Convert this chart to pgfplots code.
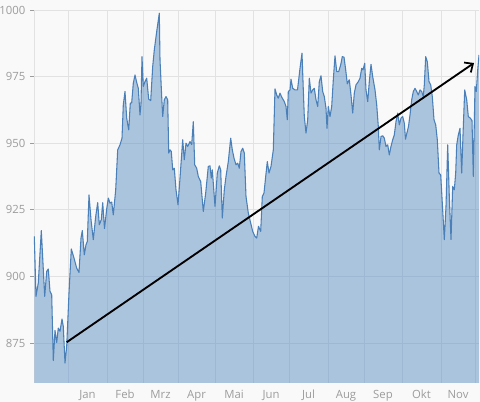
\documentclass[border=0pt]{standalone}
\usepackage{fontspec}
\setmainfont{Open Sans}
\usepackage{pgfplots}
\pgfplotsset{compat=1.18}
\usepackage{pgfplotstable}
\usetikzlibrary{arrows.meta,backgrounds}

\definecolor{areablue}{HTML}{4F86C0}
\definecolor{lineblue}{HTML}{4A7FB8}
\definecolor{gridcol}{HTML}{E2E2E2}
\definecolor{labelcol}{HTML}{9C9C9C}
\definecolor{bgcol}{HTML}{F9F9F9}

% x = position along the (ordinal) time axis, y = price
\pgfplotstableread{
x y
34.3 915.0
36 892.5
38.3 897.6
41.3 917.2
44.7 892.5
46.7 901.9
48.3 902.8
50 894.4
51.7 893.1
53.3 868.4
55 879.7
56.7 875.2
58.3 880.6
60 879.4
62 884.0
63.3 881.2
65 867.5
66.7 873.8
69 893.8
71.3 910.3
74 906.9
76.7 903.1
79 901.5
81 914.4
82.3 917.2
84.3 908.1
86 911.9
87.3 913.1
89 930.6
91 921.3
93.3 913.8
95.7 922.5
97.7 927.7
99.3 919.4
101.3 921.3
102.7 927.7
104.5 918.0
106.7 925.3
108.3 929.4
110 927.5
111.7 927.9
113.3 923.1
115.7 932.5
117.7 947.5
120 949.4
122 951.9
123.3 964.4
125 969.4
126.7 959.4
128.7 955.0
130.3 965.0
131.7 965.2
133.3 972.5
135 975.6
136.7 972.8
138.3 970.6
140 960.6
141 965.0
142 982.5
143.3 971.3
145 973.1
146.7 974.4
148.7 966.5
150.7 966.0
152.7 978.8
154.3 985.0
156.7 991.9
159.3 998.8
160 981.3
161.7 967.5
162.7 960.0
164.3 966.3
166 967.5
167.7 966.3
168.7 946.3
170 947.5
171.3 946.9
172.7 940.0
174.3 940.6
176 932.5
178 926.9
180 936.9
182.7 951.3
184.3 943.8
186 950.0
187.7 948.8
190 950.6
191.7 949.5
193.3 958.1
194.7 941.9
196.7 940.6
198.3 937.5
200.7 935.6
203.3 924.4
205.7 931.3
208.3 941.3
210 941.5
211.3 936.9
212.3 940.0
215 926.3
217.3 938.8
219.3 941.5
220.7 940.0
222.3 921.9
224.3 932.5
226 937.5
228.3 943.1
230.7 951.9
232.3 947.5
234 944.4
236 941.9
237.7 942.5
239.3 940.6
241 946.9
242.7 948.1
244.3 946.3
246 930.0
248.3 923.8
250.7 920.0
252.7 916.9
255 915.0
256.7 914.4
258.5 918.8
260.7 916.9
262.3 930.0
264 931.3
265.7 937.5
267.3 943.1
269 938.8
271 941.3
273.3 947.5
275 970.4
276.7 968.1
278.3 966.9
280 968.8
281.7 967.3
284.3 965.6
286 963.8
287.3 958.8
288.3 969.4
290 970.0
291 974.0
292.7 970.6
295 970.0
297.5 970.0
300 978.1
302 983.8
303.3 970.0
304.3 960.0
306 953.8
307.7 958.8
309.3 974.4
311 968.8
312.7 970.0
314.3 970.6
316 966.3
317.7 963.8
319.3 973.1
321 975.3
322.7 969.4
324.3 967.5
326 963.1
327 955.6
328.3 963.8
330 960.0
331.7 963.8
333.3 973.8
335 982.8
336.7 976.9
338.7 976.9
340.7 979.4
342.3 982.5
344 982.3
345.7 977.5
347.3 972.3
349.3 973.8
351 968.1
352.7 961.3
354.3 968.8
356 971.9
358.3 973.1
360 974.4
361.7 978.1
363 977.5
364.7 980.0
366 970.0
367.7 965.6
369.3 973.1
371 979.6
372.7 975.0
375 970.0
376.7 964.4
378.3 956.3
379.3 947.5
381 952.5
382.7 952.8
384.3 951.9
386 948.8
387.7 949.4
389.3 945.6
391 948.8
392.7 951.3
394.3 953.1
396 958.1
397.7 961.3
399.3 956.9
401 959.4
402.7 960.0
404.3 957.5
405.5 951.5
407 954.0
408.5 956.3
410 960.6
411.7 966.3
413.3 969.4
415 970.6
416.7 969.4
418.3 968.1
420 970.0
421.7 969.4
423.3 967.5
424.3 971.9
425.7 982.5
427.3 980.6
429 973.1
430.7 971.9
432.3 967.5
434 958.8
435.7 956.9
437.3 951.3
439 938.8
440.7 938.1
442.3 927.5
444.3 913.8
446 926.3
447.7 949.4
449.3 930.0
451 913.8
452.7 933.8
454.3 932.5
455.7 938.8
456.7 949.4
458.3 953.1
460 955.6
461.7 938.8
463 953.1
464.7 970.0
466.7 966.3
468.3 960.0
470.3 959.4
472 958.5
473.3 937.5
475 971.3
476.3 969.4
477.7 977.5
479 983.1
}\pricedata

\begin{document}
\begin{tikzpicture}
\begin{axis}[
  name=ax,
  scale only axis,
  width=333.75pt, height=279.75pt,
  xmin=34, xmax=479, ymin=860, ymax=1000,
  xtick={87.5,125,160.5,196.5,234,271,308.5,346,383,421.5,458},
  xticklabels={Jan,Feb,Mrz,Apr,Mai,Jun,Jul,Aug,Sep,Okt,Nov},
  minor xtick={34,68,107,143,178,215,253,289,328,364,402,441,475},
  xminorgrids=true, xmajorgrids=false,
  ytick={875,900,925,950,975,1000},
  ymajorgrids=true,
  grid style={draw=gridcol, line width=0.7pt},
  minor grid style={draw=gridcol, line width=0.7pt},
  axis line style={draw=none},
  xtick pos=bottom, ytick pos=left,
  tick align=outside,
  major tick length=3pt, minor tick length=0pt,
  xtick style={draw=none},
  ytick style={draw=labelcol, line width=0.6pt},
  ticklabel style={font=\fontsize{8.5}{10}\selectfont, text=labelcol},
  /pgf/number format/assume math mode=true,
  /pgf/number format/1000 sep={},
  xticklabel style={yshift=1pt},
]
  \addplot[draw=none, fill=areablue, fill opacity=0.46]
    table[x=x, y=y] {\pricedata} \closedcycle;
  \addplot[lineblue, line width=0.8pt, line join=round, mark=none]
    table[x=x, y=y] {\pricedata};
  % trend arrow
  \addplot[black, line width=1.4pt,
           -{Straight Barb[length=5pt, width=9pt, line width=1.3pt]}]
    coordinates {(66.7,875.3) (474,980.1)};
\end{axis}
\pgfresetboundingbox
\path ([shift={(-25.5pt,-14.25pt)}]ax.south west) rectangle ([shift={(0.75pt,7.5pt)}]ax.north east);
\begin{scope}[on background layer]
  \fill[bgcol] ([shift={(-25.5pt,-14.25pt)}]ax.south west) rectangle ([shift={(0.75pt,7.5pt)}]ax.north east);
\end{scope}
\end{tikzpicture}
\end{document}
